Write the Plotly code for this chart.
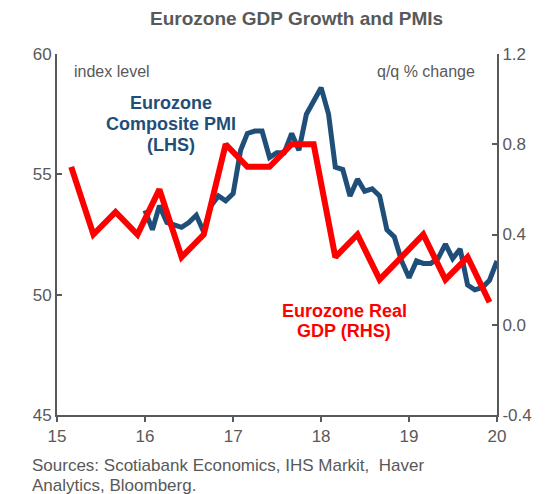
import plotly.graph_objects as go
import pandas as pd

# ---- data ----
gdp_dates = pd.date_range("2015-03-01", periods=20, freq="3MS")
gdp_values = [0.7, 0.4, 0.5, 0.4, 0.6, 0.3, 0.4, 0.8,
              0.7, 0.7, 0.8, 0.8, 0.3, 0.4, 0.2, 0.3,
              0.4, 0.2, 0.3, 0.1]

pmi_dates = pd.date_range("2016-01-01", periods=49, freq="MS")
pmi_values = [53.5, 52.7, 53.7, 53.0, 52.9, 52.8, 53.0, 53.3, 52.6, 53.7, 54.1, 53.9,
              54.2, 56.0, 56.7, 56.8, 56.8, 55.7, 55.9, 55.9, 56.7, 56.0, 57.5, 58.0,
              58.6, 57.5, 55.3, 55.2, 54.1, 54.8, 54.3, 54.4, 54.1, 52.7, 52.4, 51.4,
              50.7, 51.4, 51.3, 51.3, 51.5, 52.1, 51.5, 51.9, 50.4, 50.2, 50.3, 50.6,
              51.4]

year_ticks = ["2015-01-01", "2016-01-01", "2017-01-01", "2018-01-01", "2019-01-01", "2020-01-01"]
year_labels = ["15", "16", "17", "18", "19", "20"]

lhs_ticks = [45, 50, 55, 60]
rhs_ticks = [-0.4, 0.0, 0.4, 0.8, 1.2]
rhs_labels = ["-0.4", "0.0", "0.4", "0.8", "1.2"]

GRAY = "#595959"
BLUE = "#1F4E79"
RED = "#FF0000"
FONT = "Liberation Sans, Arial, sans-serif"

fig = go.Figure()
fig.add_trace(go.Scatter(x=pmi_dates, y=pmi_values, mode="lines",
                         line=dict(color=BLUE, width=5), yaxis="y", cliponaxis=False))
fig.add_trace(go.Scatter(x=gdp_dates, y=gdp_values, mode="lines",
                         line=dict(color=RED, width=6), yaxis="y2", cliponaxis=False))

axis_common = dict(showgrid=False, zeroline=False, showline=True, linecolor=GRAY,
                   linewidth=2, tickcolor=GRAY, tickwidth=2, ticklen=5,
                   tickfont=dict(family=FONT, size=17, color=GRAY))

fig.update_layout(
    width=559, height=494,
    margin=dict(l=57, r=62, t=54, b=79),
    paper_bgcolor="white", plot_bgcolor="white",
    showlegend=False,
    hovermode=False,
    font=dict(family=FONT, color=GRAY),
    xaxis=dict(range=["2015-01-01", "2020-01-01"], tickvals=year_ticks, ticktext=year_labels,
               ticks="outside", **axis_common),
    yaxis=dict(range=[45, 60], tickvals=lhs_ticks, ticks="inside", **axis_common),
    yaxis2=dict(range=[-0.4, 1.2], tickvals=rhs_ticks, ticktext=rhs_labels, ticks="inside",
                overlaying="y", side="right", **axis_common),
)

def px2paper(px, py):
    return (px - 57) / 440, (415 - py) / 361

def add_text(text, px, py, size, color, bold=False, anchor="center"):
    x, y = px2paper(px, py)
    fig.add_annotation(text=f"<b>{text}</b>" if bold else text, x=x, y=y,
                       xref="paper", yref="paper", showarrow=False,
                       xanchor=anchor, yanchor="middle",
                       font=dict(family=FONT, size=size, color=color))

add_text("Eurozone GDP Growth and PMIs", 296, 18, 19, GRAY, bold=True)
add_text("index level", 72, 71, 16, GRAY, anchor="left")
add_text("q/q % change", 477, 72, 16, GRAY, anchor="right")
add_text("Eurozone", 171, 103, 18, BLUE, bold=True)
add_text("Composite PMI", 171, 124, 18, BLUE, bold=True)
add_text("(LHS)", 171, 145, 18, BLUE, bold=True)
add_text("Eurozone Real", 344, 311, 18, RED, bold=True)
add_text("GDP (RHS)", 344, 331, 18, RED, bold=True)
add_text("Sources: Scotiabank Economics, IHS Markit,  Haver", 30, 465, 17, GRAY, anchor="left")
add_text("Analytics, Bloomberg.", 30, 485, 17, GRAY, anchor="left")

fig.write_html("out.html",
               config={"displayModeBar": False, "staticPlot": True},
               post_script="document.body.style.margin='0';document.body.style.overflow='hidden';")
